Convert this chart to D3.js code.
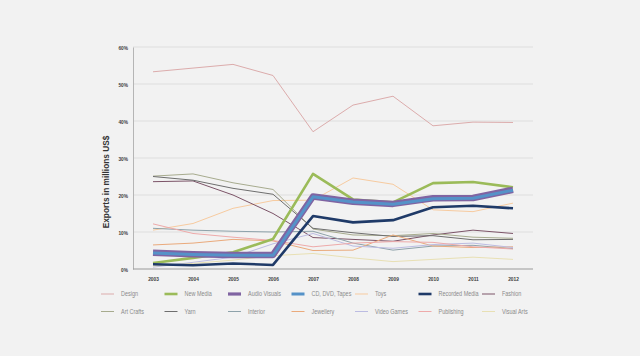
<!DOCTYPE html>
<html><head><meta charset="utf-8">
<script src="https://cdn.jsdelivr.net/npm/d3@7"></script>
<style>
body{margin:0;background:#f2f2f2;}
svg{display:block;}
</style></head>
<body>
<script>
const years = ["2003","2004","2005","2006","2007","2008","2009","2010","2011","2012"];
const yTicks = [0,10,20,30,40,50,60];
const seriesNames = ["Design","New Media","Audio Visuals","CD, DVD, Tapes","Toys","Recorded Media","Fashion",
  "Art Crafts","Yarn","Interior","Jewellery","Video Games","Publishing","Visual Arts"];
const design       = [53.3,54.3,55.3,52.3,37.1,44.3,46.7,38.7,39.7,39.6];
const newMedia     = [1.6,3.0,4.5,8.1,25.7,18.8,18.0,23.2,23.5,22.1];
const audioVisuals = [4.4,4.0,3.8,3.8,19.6,18.2,17.6,19.1,19.2,21.4];
const cdDvdTapes   = [4.3,3.9,3.7,3.7,19.5,18.1,17.5,19.0,19.1,21.3];
const toys         = [10.5,12.3,16.4,18.5,18.6,24.6,22.9,16.0,15.5,17.8];
const recordedMedia= [1.3,1.0,1.5,1.1,14.3,12.6,13.2,16.7,17.1,16.4];
const fashion      = [23.6,23.8,20.0,15.0,8.5,8.0,7.5,9.2,10.5,9.6];
const artCrafts    = [25.1,25.7,23.3,21.5,10.8,9.2,9.0,9.6,8.6,8.3];
const yarn         = [25.0,24.0,21.8,20.2,11.0,9.8,8.8,9.0,7.9,8.0];
const interior     = [11.0,10.5,10.2,10.0,10.2,7.0,5.1,6.2,6.4,5.5];
const jewellery    = [6.5,7.0,8.0,7.6,5.0,5.1,9.2,6.2,5.8,6.0];
const videoGames   = [0.5,1.8,3.2,6.8,9.6,6.2,5.6,6.6,7.0,5.8];
const publishing   = [12.2,9.6,8.6,7.7,6.0,7.0,7.4,7.2,6.0,5.4];
const visualArts   = [0.8,1.5,2.4,3.6,4.2,3.0,2.0,2.6,3.2,2.6];

const data = [design,newMedia,audioVisuals,cdDvdTapes,toys,recordedMedia,fashion,
  artCrafts,yarn,interior,jewellery,videoGames,publishing,visualArts];
const colors = ["#dcacac","#9bbb59","#8064a2","#5592c8","#f7cba0","#1f3a68","#7c5468",
  "#a7ab8e","#6e6e6e","#8ea2aa","#eaaa7c","#bcbce2","#eeaaaa","#e8e0b4"];
const widths = [1,2.6,6.5,3,1,2.6,1, 1,1,1,1,1,1,1];
const drawOrder = [0,4,6,7,8,9,10,11,12,13,1,2,3,5];

const W=640,H=356;
const FONT="'Liberation Sans',Arial,sans-serif";
const svg=d3.select("body").append("svg").attr("width",W).attr("height",H);
svg.append("rect").attr("width",W).attr("height",H).attr("fill","#f2f2f2");

const x=d3.scalePoint().domain(years).range([153,513]);
const y=d3.scaleLinear().domain([0,60]).range([269,47]);

// gridlines
svg.append("g").selectAll("line").data(yTicks.filter(d=>d>0)).join("line")
  .attr("x1",133).attr("x2",533).attr("y1",d=>y(d)).attr("y2",d=>y(d))
  .attr("stroke","#dedede").attr("stroke-width",1);

// y axis
const ya=svg.append("g").attr("transform","translate(133,0)")
  .call(d3.axisLeft(y).tickValues(yTicks).tickFormat(d=>d+"%").tickSize(0).tickPadding(0));
ya.select(".domain").attr("stroke","#b5b5b5");
ya.selectAll("text").attr("x",null).attr("dy",null)
  .attr("transform","translate(-5,2) scale(0.8,1)")
  .attr("font-family",FONT).attr("font-size","6px").attr("font-weight","bold").attr("fill","#404040");

// x axis
const xa=svg.append("g").attr("transform","translate(0,269)")
  .call(d3.axisBottom(x).tickSize(0).tickPadding(0));
xa.select(".domain").attr("d","M133,0H533").attr("stroke","#9a9a9a");
xa.selectAll("text").attr("y",null).attr("dy",null)
  .attr("transform","translate(0,12) scale(0.8,1)")
  .attr("font-family",FONT).attr("font-size","6px").attr("font-weight","bold").attr("fill","#404040");

// y label
svg.append("text").attr("transform","translate(109,182) rotate(-90)")
  .attr("text-anchor","middle").attr("font-family",FONT)
  .attr("font-size","8.3px").attr("font-weight","bold").attr("fill","#333")
  .text("Exports in millions US$");

const line=d3.line().x((d,i)=>x(years[i])).y(d=>y(d));
svg.append("g").selectAll("path").data(drawOrder).join("path")
  .attr("d",i=>line(data[i])).attr("fill","none")
  .attr("stroke",i=>colors[i]).attr("stroke-width",i=>widths[i])
  .attr("stroke-linejoin","round");

// legend
const lg=svg.append("g");
seriesNames.forEach((n,i)=>{
  const row=Math.floor(i/7), col=i%7;
  const lx=101+col*63.5, ly=294+row*17.5;
  lg.append("line").attr("x1",lx).attr("x2",lx+13).attr("y1",ly).attr("y2",ly)
    .attr("stroke",colors[i]).attr("stroke-width",Math.min(widths[i],3.2));
  lg.append("text").attr("transform",`translate(${lx+20},${ly+2.3}) scale(0.78,1)`)
    .attr("font-family",FONT).attr("font-size","7px").attr("fill","#8a8a8a").text(n);
});
</script>
</body></html>
